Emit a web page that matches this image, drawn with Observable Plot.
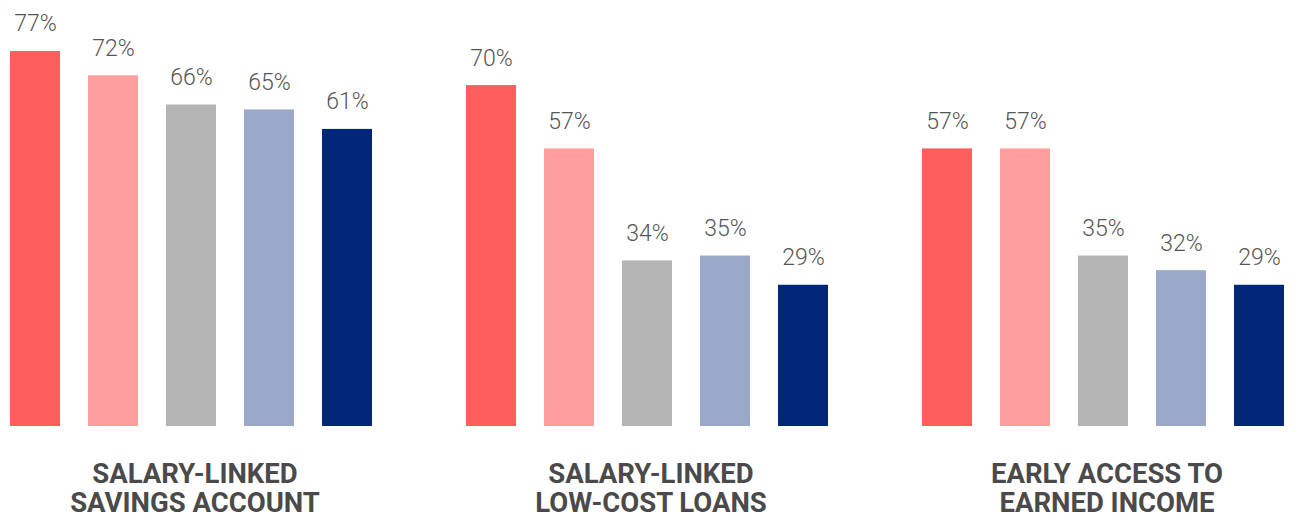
<!DOCTYPE html>
<html>
<head>
<meta charset="utf-8">
<script src="https://cdn.jsdelivr.net/npm/d3@7"></script>
<script src="https://cdn.jsdelivr.net/npm/@observablehq/plot@0.6"></script>
<style>
  html, body { margin: 0; padding: 0; background: #fff; }
  #chart svg { display: block; font-family: Roboto, "Open Sans", sans-serif; }
</style>
</head>
<body>
<div id="chart"></div>
<script>
// Category groups (facets) and their two-line labels
const groups = ["savings", "loans", "ewa"];
const groupLabels = [
  "SALARY-LINKED\nSAVINGS ACCOUNT",
  "SALARY-LINKED\nLOW-COST LOANS",
  "EARLY ACCESS TO\nEARNED INCOME"
];
// Five series within each group (no legend in the reference)
const series = ["s1", "s2", "s3", "s4", "s5"];
const seriesColors = ["#FF5F5C", "#FF9E9C", "#B4B4B4", "#9AA9C9", "#02277A"];
// Values (%) per group, in series order
const savingsValues = [77, 72, 66, 65, 61];
const loansValues = [70, 57, 34, 35, 29];
const ewaValues = [57, 57, 35, 32, 29];

const valuesByGroup = [savingsValues, loansValues, ewaValues];
const data = [];
groups.forEach((g, gi) => {
  series.forEach((s, si) => {
    data.push({group: g, series: s, value: valuesByGroup[gi][si]});
  });
});
const labelOf = Object.fromEntries(groups.map((g, i) => [g, groupLabels[i]]));

const chart = Plot.plot({
  width: 1293,
  height: 518,
  marginLeft: 8,
  marginRight: 8,
  marginTop: 0,
  marginBottom: 92,
  fx: {domain: groups, paddingInner: 0.2, paddingOuter: 0, axis: null, label: null},
  x: {domain: series, paddingInner: 0.36, paddingOuter: 0, axis: null, label: null},
  y: {domain: [0, 87.47], axis: null, label: null},
  color: {domain: series, range: seriesColors},
  marks: [
    Plot.barY(data, {fx: "group", x: "series", y: "value", fill: "series"}),
    Plot.text(data, {
      fx: "group", x: "series", y: "value",
      text: d => d.value + "%",
      lineAnchor: "bottom", dy: -20,
      fontSize: 23, fontWeight: 300, fill: "#555555",
      fontFamily: "Roboto"
    }),
    Plot.text(groups, {
      fx: d => d,
      text: d => labelOf[d],
      frameAnchor: "bottom",
      lineAnchor: "top",
      dy: 36, dx: 4,
      lineHeight: 1.05,
      fontSize: 27.5, fontWeight: 700, fill: "#4a4a4a",
      fontFamily: "Roboto"
    })
  ]
});
document.getElementById("chart").appendChild(chart);
</script>
</body>
</html>
